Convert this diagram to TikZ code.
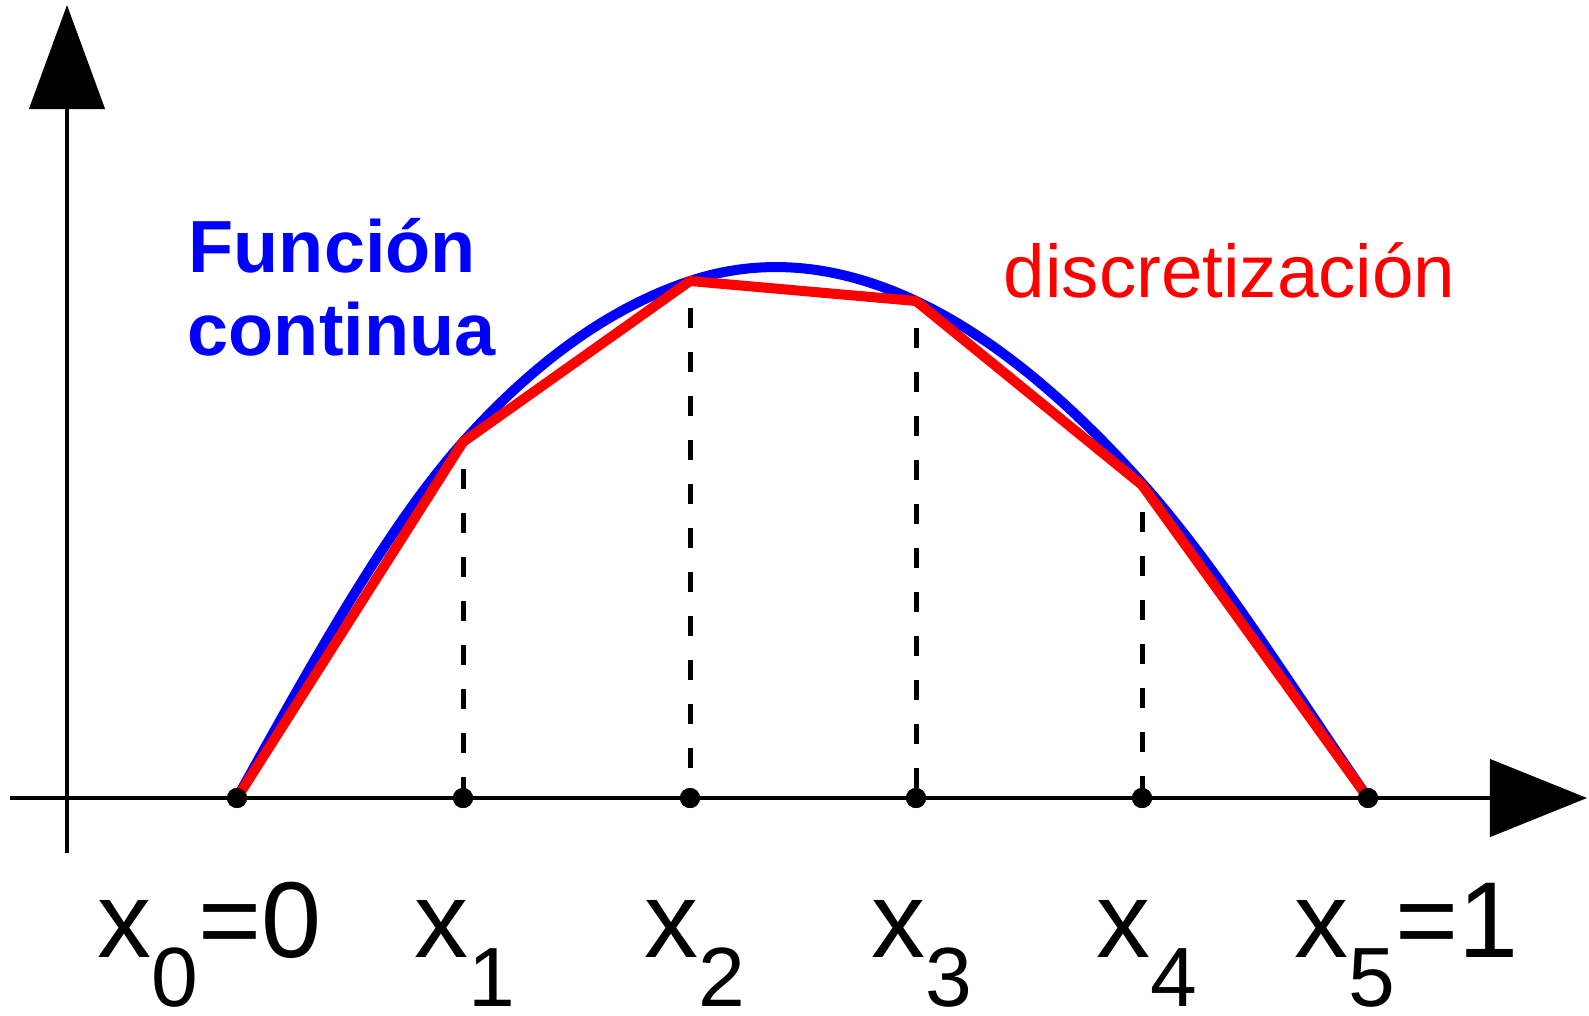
\documentclass[tikz,border=0pt]{standalone}
\usepackage{fontspec}
\setmainfont{Liberation Sans}
\usetikzlibrary{arrows.meta}
\newcommand\lowsub[1]{\raisebox{-0.495cm}{\fontsize{23.9pt}{28pt}\selectfont #1}}
\tikzset{
  axis/.style={line width=0.045cm, black},
  dotmark/.style={circle, fill=black, inner sep=0pt, minimum size=0.2cm},
  guide/.style={line width=0.05cm, black, dash pattern=on 0.2cm off 0.24cm, dash phase=-0.27cm},
  xlabel/.style={anchor=base west, inner sep=0pt, font=\fontsize{30.7pt}{36pt}\selectfont},
  bluetext/.style={anchor=base west, inner sep=0pt, text=blue, font=\fontsize{21pt}{25pt}\selectfont\bfseries},
  redtext/.style={anchor=base west, inner sep=0pt, text=red, font=\fontsize{21.2pt}{25pt}\selectfont},
  curve/.style={line width=0.1cm, blue, line cap=round},
  poly/.style={line width=0.1cm, red, line join=round, line cap=round}
}
\begin{document}
\begin{tikzpicture}[x=0.01cm, y=-0.01cm]
\useasboundingbox (0,0) rectangle (1589,1015);
% points on axis
\node[dotmark] (d0) at (237,798) {};
\node[dotmark] (d1) at (463,798) {};
\node[dotmark] (d2) at (690,798) {};
\node[dotmark] (d3) at (916,798) {};
\node[dotmark] (d4) at (1142,798) {};
\node[dotmark] (d5) at (1368,798) {};
% vertices of discretisation
\coordinate (v0) at (237,798);
\coordinate (v1) at (463,442);
\coordinate (v2) at (690,281);
\coordinate (v3) at (916,301);
\coordinate (v4) at (1142,485);
\coordinate (v5) at (1368,798);
\coordinate (b4) at (1142,483);
% dashed guides
\draw[guide] (v1) -- (d1.center);
\draw[guide] (v2) -- (d2.center);
\draw[guide] (v3) -- (d3.center);
\draw[guide] (v4) -- (d4.center);
% axes
\coordinate (xs) at (10,798);
\coordinate (xe) at (1587,798);
\coordinate (ys) at (67,853);
\coordinate (ye) at (67,5);
\draw[axis, -{Triangle[length=0.97cm, width=0.77cm]}] (xs) -- (xe);
\draw[axis, -{Triangle[length=1.04cm, width=0.75cm]}] (ys) -- (ye);
% continuous function
\draw[curve] (v0)
  .. controls (312.4,662.3) and (387.6,526.4) .. (v1)
  .. controls (538.4,357.6) and (614.6,305.9) .. (v2)
  .. controls (765.4,256.1) and (840.6,265.6) .. (v3)
  .. controls (991.4,336.4) and (1066.6,398.6) .. (b4)
  .. controls (1217.4,567.4) and (1292.6,688.7) .. (v5);
% discretisation
\draw[poly] (v0) -- (v1) -- (v2) -- (v3) -- (v4) -- (v5);
% dots on top
\foreach \p in {d0,d1,d2,d3,d4,d5} \fill (\p.center) circle (10);
% labels
\node[bluetext] (t1) at (188,272) {Función};
\node[bluetext] (t2) at (187,355) {continua};
\node[redtext] (t3) at (1003,297) {discretización};
\node[xlabel] (l0) at (97,957) {x\lowsub{0}=0};
\node[xlabel] (l1) at (414,957) {x\lowsub{1}};
\node[xlabel] (l2) at (644,957) {x\lowsub{2}};
\node[xlabel] (l3) at (871,957) {x\lowsub{3}};
\node[xlabel] (l4) at (1096,957) {x\lowsub{4}};
\node[xlabel] (l5) at (1294,957) {x\lowsub{5}=1};
\end{tikzpicture}
\end{document}
